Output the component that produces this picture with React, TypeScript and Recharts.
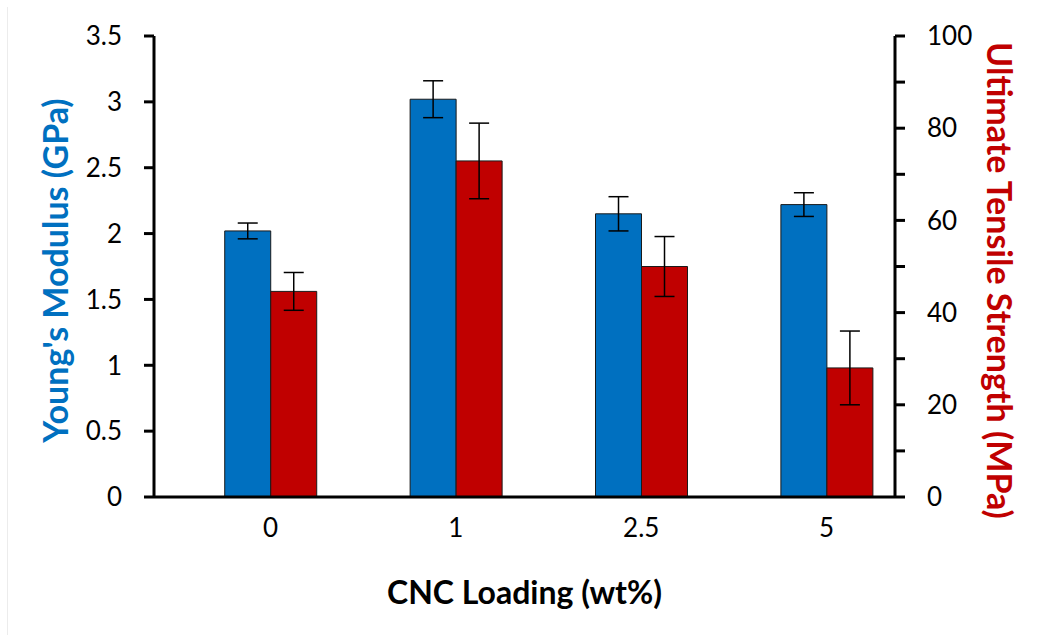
import { BarChart, Bar, XAxis, YAxis, ErrorBar } from 'recharts';

const categories = ['0', '1', '2.5', '5'];
const modulus = [2.02, 3.02, 2.15, 2.22];
const modulusErr = [0.06, 0.14, 0.13, 0.09];
const strength = [44.6, 72.9, 50.0, 28.0];
const strengthErr = [4.1, 8.2, 6.5, 8.0];
const modulusTicks = [0, 0.5, 1, 1.5, 2, 2.5, 3, 3.5];
const strengthTicks = [0, 10, 20, 30, 40, 50, 60, 70, 80, 90, 100];
const positions = [0, 1, 2, 3];

const data = categories.map((name, i) => ({
  name,
  pos: positions[i],
  modulus: modulus[i],
  modulusErr: modulusErr[i],
  strength: strength[i],
  strengthErr: strengthErr[i],
}));

const FONT = 'Lato, "Open Sans", sans-serif';
const BLUE = '#0070C0';
const RED = '#C00000';

const tickStyle = { fontSize: 26, fill: '#000', fontFamily: FONT };
const titleStyle = { fontWeight: 700, fontFamily: FONT };

export default function App() {
  return (
    <div style={{ position: 'fixed', left: 0, top: 0, width: 1038, height: 635, background: '#fff' }}>
      <div
        style={{
          position: 'absolute',
          left: 7,
          top: 7,
          height: 628,
          borderLeft: '1px solid #ececec',
        }}
      />
      <BarChart
        width={1038}
        height={635}
        data={data}
        barGap={0}
        margin={{ top: 36, right: 0, bottom: 0, left: 0 }}
      >
        <XAxis
          type="number"
          dataKey="pos"
          domain={[-0.628, 3.369]}
          allowDataOverflow
          ticks={positions}
          tickFormatter={(v: number) => categories[v] ?? ''}
          tick={tickStyle}
          tickLine={false}
          tickSize={0}
          tickMargin={22}
          height={138}
          axisLine={{ stroke: '#000', strokeWidth: 3 }}
          label={{
            value: 'CNC Loading (wt%)',
            position: 'insideBottom',
            offset: 31,
            style: { ...titleStyle, fontSize: 32, fill: '#000' },
          }}
        />
        <YAxis
          yAxisId="left"
          orientation="left"
          width={154}
          domain={[0, 3.5]}
          ticks={modulusTicks}
          interval={0}
          tick={tickStyle}
          tickSize={10}
          tickMargin={22}
          tickLine={{ stroke: '#000', strokeWidth: 3 }}
          axisLine={{ stroke: '#000', strokeWidth: 3 }}
          label={{
            value: "Young's Modulus (GPa)",
            angle: -90,
            position: 'center',
            dx: -21,
            dy: 4,
            style: { ...titleStyle, fontSize: 34, fill: BLUE },
          }}
        />
        <YAxis
          yAxisId="right"
          orientation="right"
          width={143}
          domain={[0, 100]}
          ticks={strengthTicks}
          interval={0}
          tickFormatter={(v: number) => (v % 20 === 0 ? String(v) : '')}
          tick={tickStyle}
          tickSize={10}
          tickMargin={22}
          tickLine={{ stroke: '#000', strokeWidth: 3 }}
          axisLine={{ stroke: '#000', strokeWidth: 3 }}
          label={{
            value: 'Ultimate Tensile Strength (MPa)',
            angle: 90,
            position: 'center',
            dx: 33,
            dy: 14,
            style: { ...titleStyle, fontSize: 34, fill: RED },
          }}
        />
        <Bar
          yAxisId="left"
          dataKey="modulus"
          fill={BLUE}
          stroke="#1a1a1a"
          strokeWidth={1}
          barSize={46}
          isAnimationActive={false}
        >
          <ErrorBar dataKey="modulusErr" width={10} stroke="#000" strokeWidth={1.5} direction="y" />
        </Bar>
        <Bar
          yAxisId="right"
          dataKey="strength"
          fill={RED}
          stroke="#1a1a1a"
          strokeWidth={1}
          barSize={46}
          isAnimationActive={false}
        >
          <ErrorBar dataKey="strengthErr" width={10} stroke="#000" strokeWidth={1.5} direction="y" />
        </Bar>
      </BarChart>
    </div>
  );
}
